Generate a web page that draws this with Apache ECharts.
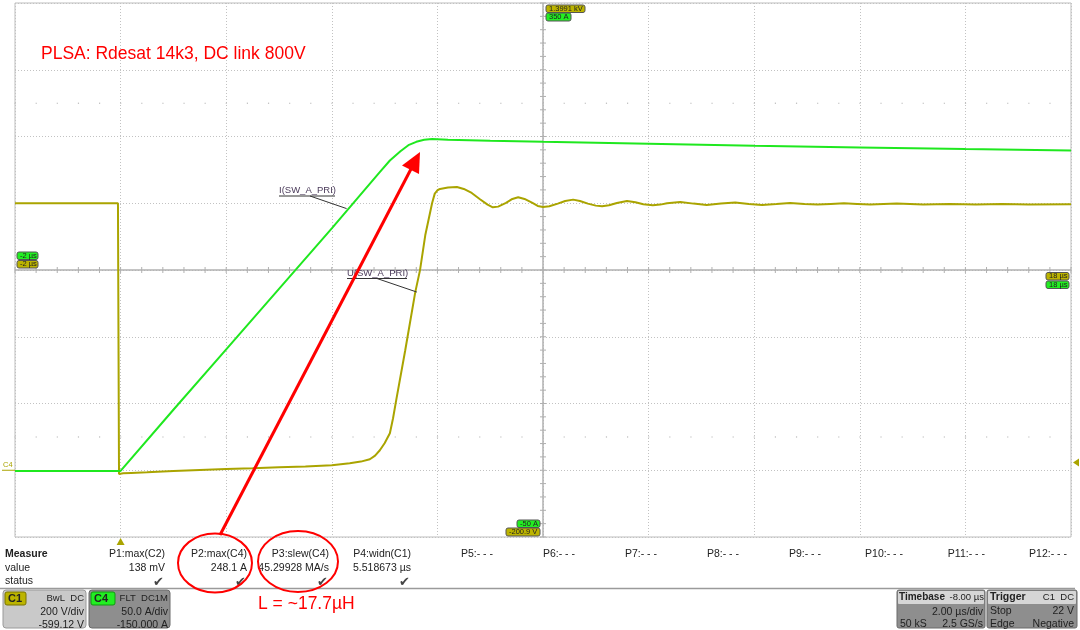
<!DOCTYPE html>
<html><head><meta charset="utf-8">
<script src="https://cdn.jsdelivr.net/npm/echarts@6/dist/echarts.min.js"></script>
<style>html,body{margin:0;padding:0;background:#fff}#c{width:1080px;height:630px}</style>
</head><body><div id="c"></div>
<script>
// ---- data (time in µs relative to trigger) ----
const currentTime = [-2, 0, 1, 2, 3, 4, 4.9, 5.1, 5.3, 5.45, 5.6, 5.75, 5.9, 6.2, 7, 8, 10, 12, 14, 16, 18];
const currentAmp  = [-0.5, -0.5, 45.3, 90.6, 135.9, 181.2, 223, 232, 239, 243.5, 246, 247.5, 248.1, 247.6, 246.8, 246, 244.5, 243, 241.8, 240.6, 239.6];

const voltageTime = [-2, -0.05, -0.03, 0.05, 0.2, 0.5, 1.0, 1.5, 2, 2.5, 3, 3.5, 4.0, 4.34, 4.55, 4.72, 4.82, 4.91, 5.0, 5.1, 5.16, 5.22, 5.39, 5.58, 5.67, 5.77, 5.9, 5.95, 6.0, 6.05, 6.2, 6.37, 6.5, 6.65, 6.8, 6.95, 7.05, 7.15, 7.3, 7.42, 7.53, 7.65, 7.8, 7.9, 8.0, 8.12, 8.28, 8.42, 8.57, 8.7, 8.85, 9.0, 9.12, 9.25, 9.4, 9.59, 9.75, 9.9, 10.08, 10.22, 10.35, 10.6, 10.85, 11.1, 11.37, 11.64, 11.9, 12.15, 12.42, 12.68, 12.95, 13.2, 13.45, 13.7, 13.95, 14.2, 14.7, 15.2, 15.7, 16.2, 16.7, 17.2, 18];
const voltageVolt = [799, 799, -12, -10, -9, -7, -3, 0, 3, 5, 8, 10, 14, 20, 25, 32, 43, 59, 80, 110, 155, 209, 358, 532, 598, 703, 800, 828, 838, 842, 846, 848, 842, 830, 812, 795, 787, 789, 800, 812, 817, 812, 800, 791, 788, 790, 798, 806, 810, 806, 798, 792, 790, 793, 800, 806, 802, 796, 793, 795, 799, 803, 798, 794, 798, 801, 797, 794, 797, 800, 797, 795, 797, 799, 797, 795, 798, 795, 797, 795, 797, 795, 796];

// axis ranges / marker labels
const timeRange = [-2, 18];        // µs, 2 µs/div
const currentRange = [-50, 350];   // A, 50 A/div
const voltageRange = [-200.9, 1399.1]; // V, 200 V/div
const topLabels = ['1.3991 kV', '350 A'];
const leftLabels = ['-2 µs', '-2 µs'];
const rightLabels = ['18 µs', '18 µs'];
const bottomLabels = ['-50 A', '-200.9 V'];

const measureNames = ['P1:max(C2)', 'P2:max(C4)', 'P3:slew(C4)', 'P4:widn(C1)', 'P5:- - -', 'P6:- - -', 'P7:- - -', 'P8:- - -', 'P9:- - -', 'P10:- - -', 'P11:- - -', 'P12:- - -'];
const measureValues = ['138 mV', '248.1 A', '45.29928 MA/s', '5.518673 µs'];

const GREEN = '#1fe81f', OLIVE = '#aaa400', TAGOLIVE = '#bcb400', TAGGREEN = '#22ee22';
const FONT = '"Liberation Sans", Arial, sans-serif';

const chart = echarts.init(document.getElementById('c'));
const splitStyle = {show: true, lineStyle: {color: '#c2c2c2', type: [1, 2], width: 1}};
const option = {
  animation: false,
  backgroundColor: '#fff',
  grid: {left: 15, right: 9, top: 3, bottom: 93, show: true, borderColor: '#bdbdbd', borderWidth: 1, backgroundColor: 'transparent'},
  xAxis: [{type: 'value', min: timeRange[0], max: timeRange[1], interval: 2,
    axisLine: {show: false}, axisTick: {show: false}, axisLabel: {show: false}, splitLine: splitStyle}],
  yAxis: [
    {type: 'value', min: currentRange[0], max: currentRange[1], interval: 50,
     axisLine: {show: false}, axisTick: {show: false}, axisLabel: {show: false}, splitLine: splitStyle},
    {type: 'value', min: voltageRange[0], max: voltageRange[1], show: false, splitLine: {show: false}}
  ],
  series: [
    {type: 'custom', xAxisIndex: 0, yAxisIndex: 0, silent: true, z: 1,
     data: [[(timeRange[0] + timeRange[1]) / 2, (currentRange[0] + currentRange[1]) / 2]],
     renderItem: function (params, api) {
       const cx = api.value(0), cy = api.value(1);
       const c = api.coord([cx, cy]);
       const lb = api.coord([timeRange[0], currentRange[0]]);
       const rt = api.coord([timeRange[1], currentRange[1]]);
       const ch = [];
       const st = {stroke: '#b0b0b0', lineWidth: 1.5};
       ch.push({type: 'line', shape: {x1: lb[0], y1: c[1], x2: rt[0], y2: c[1]}, style: st});
       ch.push({type: 'line', shape: {x1: c[0], y1: lb[1], x2: c[0], y2: rt[1]}, style: st});
       const tStep = 0.4, iStep = 10;
       for (let t = timeRange[0]; t <= timeRange[1] + 1e-9; t += tStep) {
         const p = api.coord([t, cy]);
         ch.push({type: 'line', shape: {x1: p[0], y1: p[1] - 3, x2: p[0], y2: p[1] + 3}, style: {stroke: '#b0b0b0', lineWidth: 1}});
         [25, 275].forEach(function (lv) {
           const q = api.coord([t, lv]);
           ch.push({type: 'rect', shape: {x: q[0] - 0.5, y: q[1] - 0.5, width: 1.2, height: 1.2}, style: {fill: '#b8b8b8'}});
         });
       }
       for (let a = currentRange[0]; a <= currentRange[1] + 1e-9; a += iStep) {
         const p = api.coord([cx, a]);
         ch.push({type: 'line', shape: {x1: p[0] - 3, y1: p[1], x2: p[0] + 3, y2: p[1]}, style: {stroke: '#b0b0b0', lineWidth: 1}});
       }
       return {type: 'group', children: ch};
     }},
    {type: 'line', name: 'U(SW_A_PRI)', xAxisIndex: 0, yAxisIndex: 1, showSymbol: false, z: 3,
     data: voltageTime.map(function (t, i) { return [t, voltageVolt[i]]; }),
     lineStyle: {color: OLIVE, width: 2}},
    {type: 'line', name: 'I(SW_A_PRI)', xAxisIndex: 0, yAxisIndex: 0, showSymbol: false, z: 4,
     data: currentTime.map(function (t, i) { return [t, currentAmp[i]]; }),
     lineStyle: {color: GREEN, width: 2}}
  ]
};
chart.setOption(option);

// ---- overlay graphics ----
function txt(x, y, s, opt) {
  opt = opt || {};
  return {type: 'text', z: 100, silent: true, x: x, y: y, style: {
    text: s, fill: opt.fill || '#222', font: (opt.bold ? 'bold ' : '') + (opt.size || 10.5) + 'px ' + FONT,
    align: opt.align || 'left', verticalAlign: 'middle', textAlign: opt.align || 'left', textVerticalAlign: 'middle'}};
}
function rect(x, y, w, h, fill, stroke, r) {
  return {type: 'rect', z: 90, silent: true, shape: {x: x, y: y, width: w, height: h, r: r || 0},
    style: {fill: fill, stroke: stroke || null, lineWidth: 1}};
}
function tag(x, y, w, h, fill, s) {
  return [rect(x, y, w, h, fill, '#555', 2), txt(x + 3, y + h / 2, s, {size: 7.5, fill: '#222'})];
}
function line(x1, y1, x2, y2, stroke, w) {
  return {type: 'line', z: 95, silent: true, shape: {x1: x1, y1: y1, x2: x2, y2: y2}, style: {stroke: stroke, lineWidth: w || 1}};
}
const g = [];
const px0 = chart.convertToPixel({xAxisIndex: 0, yAxisIndex: 0}, [timeRange[0], currentRange[1]]);
const px1 = chart.convertToPixel({xAxisIndex: 0, yAxisIndex: 0}, [timeRange[1], currentRange[0]]);
const ctr = chart.convertToPixel({xAxisIndex: 0, yAxisIndex: 0}, [8, 150]);

// channel marker tags
g.push.apply(g, tag(ctr[0] + 3, px0[1] + 2, 39, 7.5, TAGOLIVE, topLabels[0]));
g.push.apply(g, tag(ctr[0] + 3, px0[1] + 10, 25, 8, TAGGREEN, topLabels[1]));
g.push.apply(g, tag(px0[0] + 2, ctr[1] - 18, 21, 7.5, TAGGREEN, leftLabels[0]));
g.push.apply(g, tag(px0[0] + 2, ctr[1] - 9.5, 21, 7.5, TAGOLIVE, leftLabels[1]));
g.push.apply(g, tag(px1[0] - 25, ctr[1] + 2.5, 23, 7.5, TAGOLIVE, rightLabels[0]));
g.push.apply(g, tag(px1[0] - 25, ctr[1] + 11, 23, 7.5, TAGGREEN, rightLabels[1]));
g.push.apply(g, tag(ctr[0] - 26, px1[1] - 17, 23, 7.5, TAGGREEN, bottomLabels[0]));
g.push.apply(g, tag(ctr[0] - 37, px1[1] - 9, 34, 8, TAGOLIVE, bottomLabels[1]));

// C4 ground marker and trigger markers
const gnd = chart.convertToPixel({xAxisIndex: 0, yAxisIndex: 0}, [0, 0]);
g.push(txt(3, gnd[1] - 5, 'C4', {size: 7.5, fill: OLIVE}));
g.push(line(2, gnd[1], 15, gnd[1], OLIVE, 1));
const trg = chart.convertToPixel({xAxisIndex: 0, yAxisIndex: 1}, [0, 22]);
g.push({type: 'polygon', z: 95, silent: true, shape: {points: [[trg[0] - 4, px1[1] + 8], [trg[0] + 4, px1[1] + 8], [trg[0], px1[1] + 1]]}, style: {fill: OLIVE}});
g.push({type: 'polygon', z: 95, silent: true, shape: {points: [[1079, trg[1] - 4], [1079, trg[1] + 4], [1073, trg[1]]]}, style: {fill: OLIVE}});

// trace annotations
const aI = chart.convertToPixel({xAxisIndex: 0, yAxisIndex: 0}, [4.28, 196]);
g.push(txt(279, 190, 'I(SW_A_PRI)', {size: 9.5, fill: '#4a3a5a'}));
g.push(line(279, 196, 335, 196, '#333', 1));
g.push(line(310, 196, aI[0], aI[1], '#333', 1));
const aU = chart.convertToPixel({xAxisIndex: 0, yAxisIndex: 1}, [5.61, 533]);
g.push(txt(347, 273, 'U(SW_A_PRI)', {size: 9.5, fill: '#4a3a5a'}));
g.push(line(347, 278.5, 407, 278.5, '#333', 1));
g.push(line(377, 278.5, aU[0], aU[1], '#333', 1));

// red title
g.push(txt(41, 54, 'PLSA: Rdesat 14k3, DC link 800V', {size: 17.5, fill: '#ff0000'}));

// measure panel
g.push(line(0, 588.5, 1075, 588.5, '#9a9a9a', 1.5));
const rowY = [554, 568, 581.5];
g.push(txt(5, rowY[0], 'Measure', {bold: true, size: 10.5}));
g.push(txt(5, rowY[1], 'value', {size: 10.5}));
g.push(txt(5, rowY[2], 'status', {size: 10.5}));
measureNames.forEach(function (n, k) {
  const xr = 165 + 82 * k;
  g.push(txt(xr, rowY[0], n, {size: 10.5, align: 'right'}));
  if (measureValues[k]) {
    g.push(txt(xr, rowY[1], measureValues[k], {size: 10.5, align: 'right'}));
    g.push(txt(xr - 1, rowY[2] + 0.5, '✔', {size: 13, align: 'right', fill: '#444'}));
  }
});

// channel boxes
g.push(rect(3, 590, 83, 38, '#c9c9c9', '#9a9a9a', 3));
g.push(rect(5, 592, 21, 13, TAGOLIVE, '#7a7400', 2));
g.push(txt(8, 598.5, 'C1', {bold: true, size: 11}));
g.push(txt(84, 598.5, 'BwL  DC', {size: 9.5, align: 'right'}));
g.push(txt(84, 612, '200 V/div', {size: 10.5, align: 'right'}));
g.push(txt(84, 625, '-599.12 V', {size: 10.5, align: 'right'}));
g.push(rect(89, 590, 81, 38, '#8e8e8e', '#6a6a6a', 3));
g.push(rect(91, 592, 24, 13, TAGGREEN, '#119911', 2));
g.push(txt(94, 598.5, 'C4', {bold: true, size: 11}));
g.push(txt(168, 598.5, 'FLT  DC1M', {size: 9.5, align: 'right'}));
g.push(txt(168, 612, '50.0 A/div', {size: 10.5, align: 'right'}));
g.push(txt(168, 625, '-150.000 A', {size: 10.5, align: 'right'}));

// timebase / trigger boxes
g.push(rect(897, 590, 88, 38, '#8e8e8e', '#6a6a6a', 2));
g.push(rect(898, 591, 86, 13, '#d6d6d6', null, 1));
g.push(txt(899, 597.5, 'Timebase', {bold: true, size: 10}));
g.push(txt(984, 597.5, '-8.00 µs', {size: 9.5, align: 'right'}));
g.push(txt(983, 612, '2.00 µs/div', {size: 10.5, align: 'right'}));
g.push(txt(900, 624.5, '50 kS', {size: 10.5}));
g.push(txt(983, 624.5, '2.5 GS/s', {size: 10.5, align: 'right'}));
g.push(rect(987, 590, 90, 38, '#8e8e8e', '#6a6a6a', 2));
g.push(rect(988, 591, 88, 13, '#d6d6d6', null, 1));
g.push(txt(990, 597.5, 'Trigger', {bold: true, size: 10.5}));
g.push(txt(1074, 597.5, 'C1  DC', {size: 9.5, align: 'right'}));
g.push(txt(990, 611, 'Stop', {size: 10.5}));
g.push(txt(1074, 611, '22 V', {size: 10.5, align: 'right'}));
g.push(txt(990, 624.5, 'Edge', {size: 10.5}));
g.push(txt(1074, 624.5, 'Negative', {size: 10.5, align: 'right'}));

// red hand annotations
g.push({type: 'ellipse', z: 110, silent: true, shape: {cx: 215, cy: 563, rx: 37, ry: 29.5}, style: {fill: null, stroke: '#ff0000', lineWidth: 2}});
g.push({type: 'ellipse', z: 110, silent: true, shape: {cx: 298, cy: 561.5, rx: 40, ry: 30.5}, style: {fill: null, stroke: '#ff0000', lineWidth: 2}});
g.push({type: 'line', z: 110, silent: true, shape: {x1: 220, y1: 535, x2: 411, y2: 169}, style: {stroke: '#ff0000', lineWidth: 3}});
g.push({type: 'polygon', z: 110, silent: true, shape: {points: [[420, 152], [419, 174], [402, 165.5]]}, style: {fill: '#ff0000'}});
g.push(txt(258, 604, 'L = ~17.7µH', {size: 17.5, fill: '#ff0000'}));

chart.setOption({graphic: {elements: g}});
</script>
</body></html>
